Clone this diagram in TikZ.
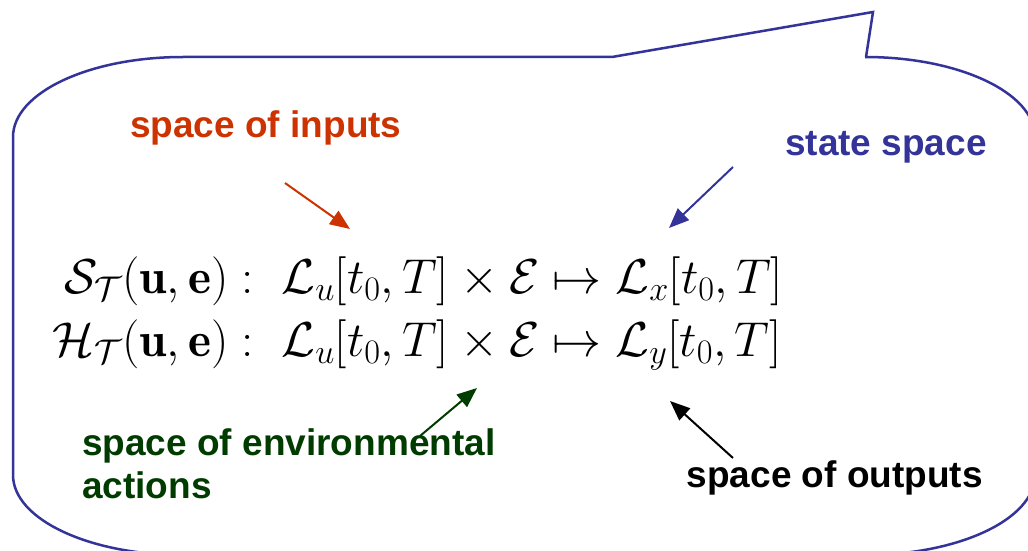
\documentclass[tikz,border=0pt]{standalone}
\usepackage{fix-cm}
\usepackage{amsmath,amssymb}
\usepackage{fontspec}
\newfontfamily\labelfont{Liberation Sans}
\usetikzlibrary{arrows.meta}
\definecolor{inred}{RGB}{204,51,0}
\definecolor{stateblue}{RGB}{51,51,153}
\definecolor{envgreen}{RGB}{0,60,0}

\begin{document}
\begin{tikzpicture}[x=1pt,y=-1pt,
  lbl/.style={font=\labelfont\bfseries\fontsize{37}{43}\selectfont,inner sep=0pt,align=left},
  formula/.style={font=\fontsize{49}{63}\selectfont,inner sep=0pt},
  seta/.style={-{Triangle[length=20pt,width=16pt]},line width=2pt},
  balao/.style={draw=stateblue,line width=2.5pt,line join=miter}
]
\useasboundingbox (0,0) rectangle (1028,551);
% callout outline
\draw[balao] (612,57) -- (873,12) -- (866,57) -- (865,57)
  arc[start angle=270,end angle=360,x radius=170,y radius=80] -- (1035,475)
  arc[start angle=0,end angle=90,x radius=170,y radius=80] -- (183,555)
  arc[start angle=90,end angle=180,x radius=170,y radius=80] -- (13,137)
  arc[start angle=180,end angle=270,x radius=170,y radius=80] -- cycle;
% mappings
\node[formula] (maps) at (418,312) {$\begin{array}{@{}r@{\;:\;\;}l@{}}
  \mathcal{S}_{\mathcal{T}}(\mathbf{u},\mathbf{e}) & \mathcal{L}_u[t_0,T]\times\mathcal{E}\mapsto\mathcal{L}_x[t_0,T]\\
  \mathcal{H}_{\mathcal{T}}(\mathbf{u},\mathbf{e}) & \mathcal{L}_u[t_0,T]\times\mathcal{E}\mapsto\mathcal{L}_y[t_0,T]
\end{array}$};
% labels
\node[lbl,text=inred,anchor=base west] (inputs) at (130,137) {space of inputs};
\node[lbl,text=stateblue,anchor=base west] (state) at (785,155) {state space};
\node[lbl,text=envgreen,anchor=base west] (envir) at (82,498) {space of environmental\\actions};
\node[lbl,anchor=base east] (outputs) at (983,487) {space of outputs};
% arrow ends
\coordinate (inA) at (285,183);
\coordinate (inB) at (350,229);
\coordinate (stA) at (733,167);
\coordinate (stB) at (669,228);
\coordinate (enA) at (420,436);
\coordinate (enB) at (477,388);
\coordinate (ouA) at (733,458);
\coordinate (ouB) at (670,401);
\draw[seta,inred] (inA) -- (inB);
\draw[seta,stateblue] (stA) -- (stB);
\draw[seta,envgreen] (enA) -- (enB);
\draw[seta,black] (ouA) -- (ouB);
\end{tikzpicture}
\end{document}
